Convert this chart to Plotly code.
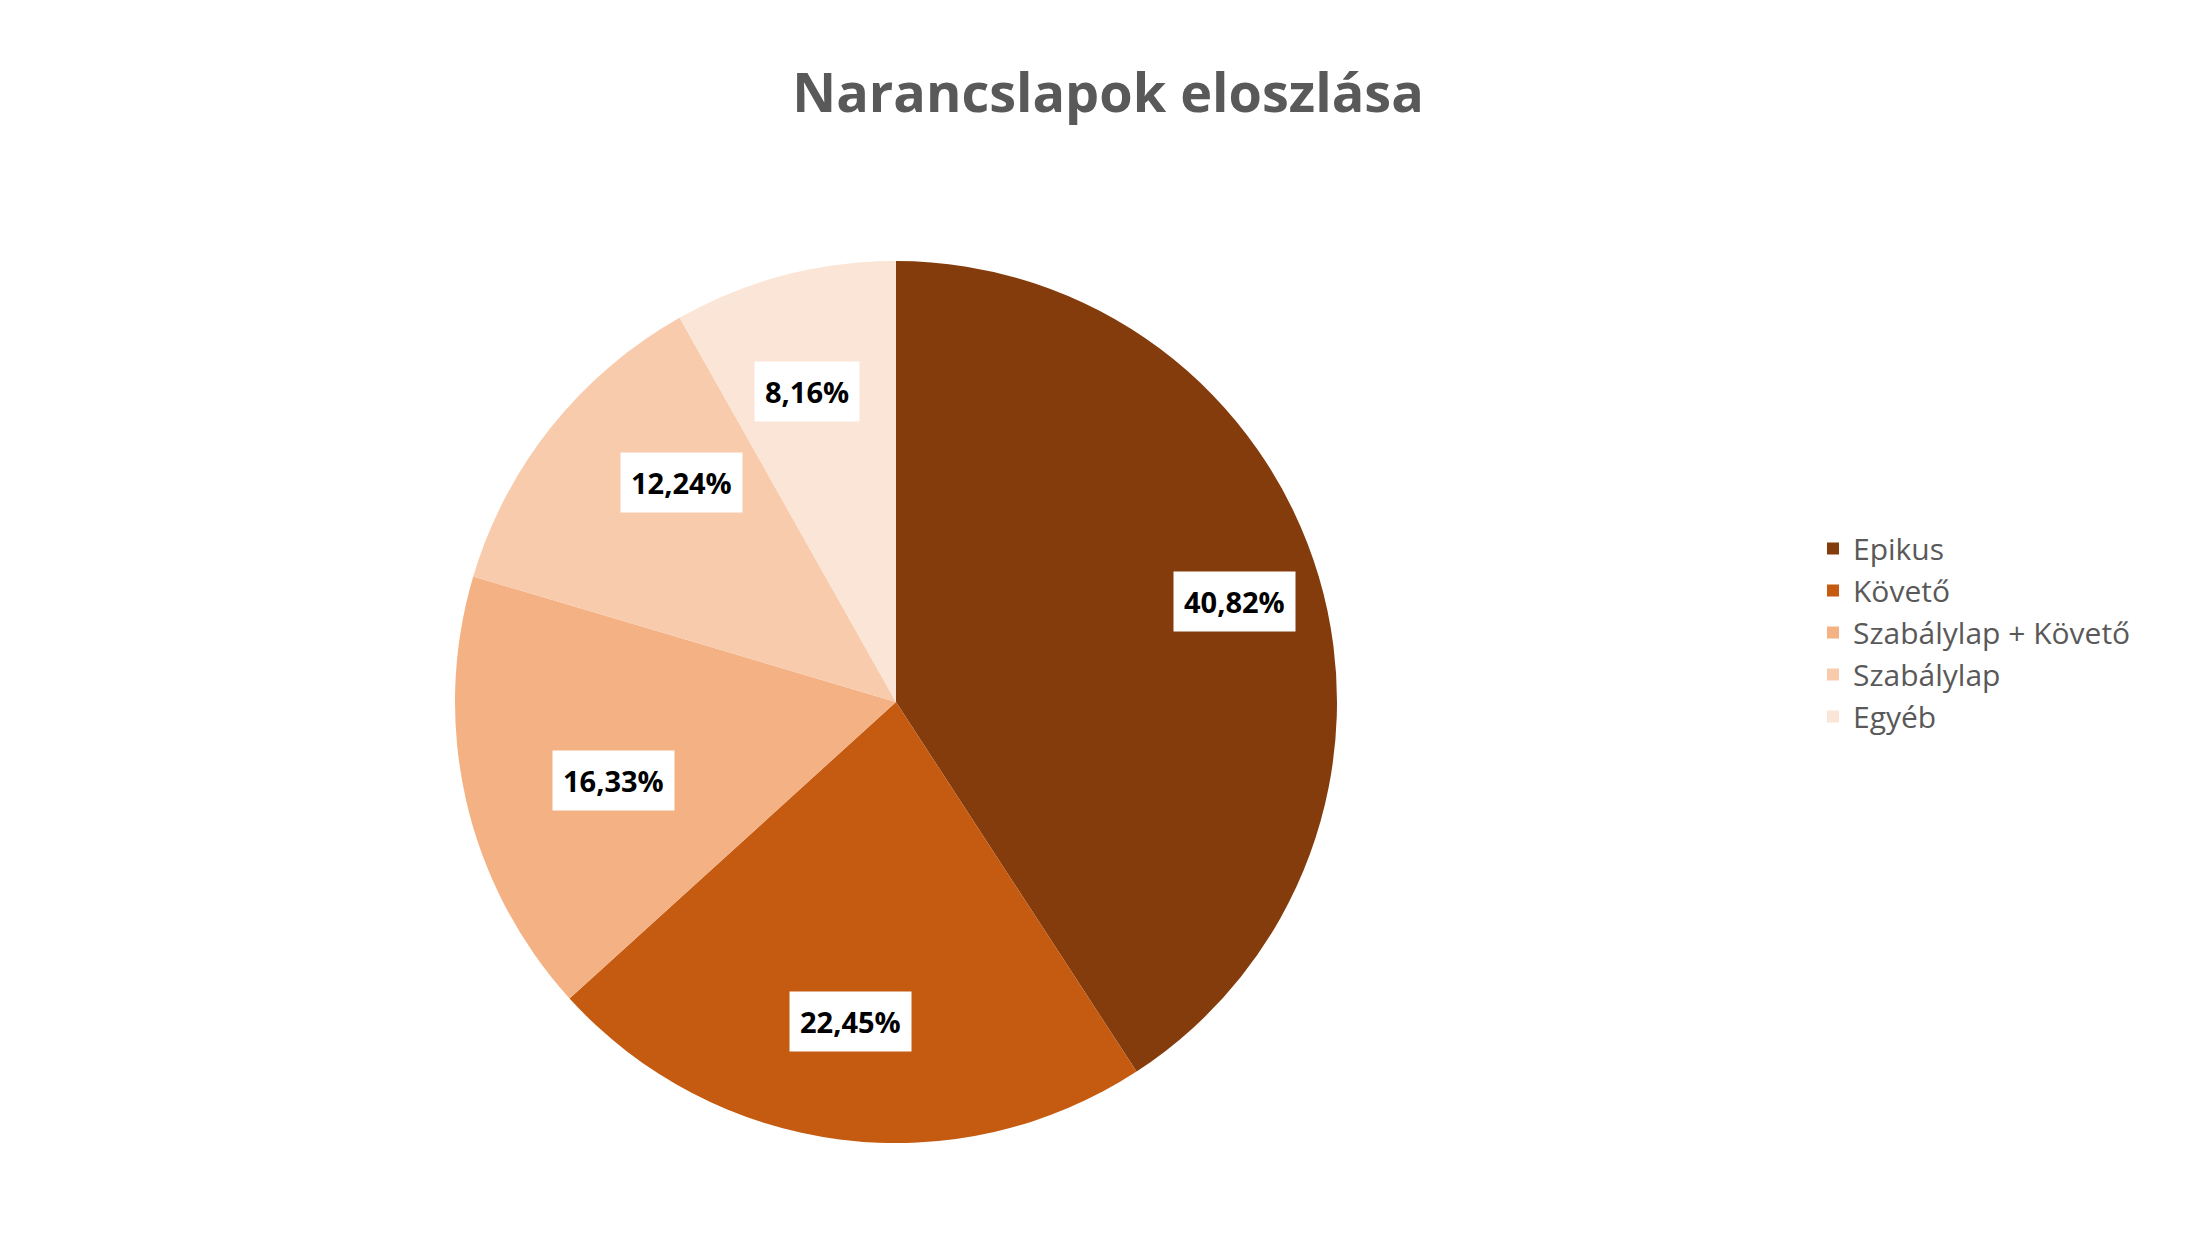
import math
import plotly.graph_objects as go

labels = ["Epikus", "Követő", "Szabálylap + Követő", "Szabálylap", "Egyéb"]
values = [20, 11, 8, 6, 4]
colors = ["#843C0C", "#C55A11", "#F4B183", "#F8CBAD", "#FBE5D6"]

W, H = 2200, 1249
cx, cy, R = 888, 694, 441  # pixel geometry of the pie
dom_x = [(cx - R) / W, (cx + R) / W]
dom_y = [1 - (cy + R) / H, 1 - (cy - R) / H]

fig = go.Figure(go.Pie(
    labels=labels, values=values, sort=False, direction="clockwise", rotation=0,
    marker=dict(colors=colors), textinfo="none", hoverinfo="label+percent",
    domain=dict(x=dom_x, y=dom_y),
))

total = sum(values)
cum = 0
annotations = []
for v in values:
    th = 2 * math.pi * (cum + v / 2) / total
    cum += v
    r = R * 0.8
    px = cx + r * math.sin(th)
    py = cy - r * math.cos(th)
    pct = f"{100 * v / total:.2f}".replace(".", ",") + "%"
    annotations.append(dict(
        x=px / W, y=1 - py / H, xref="paper", yref="paper", showarrow=False,
        text=f"<b>{pct}</b>", font=dict(family="Open Sans", size=29, color="black"),
        bgcolor="white", borderpad=10,
    ))

fig.update_layout(
    width=W, height=H, paper_bgcolor="white",
    margin=dict(l=0, r=0, t=0, b=0),
    title=dict(text="<b>Narancslapok eloszlása</b>", x=0.5, xanchor="center",
               y=1 - 85 / H, yanchor="middle",
               font=dict(family="Open Sans", size=54, color="#595959")),
    legend=dict(x=1805 / W, y=0.5, xanchor="left", yanchor="middle",
                font=dict(family="Open Sans", size=30, color="#595959"),
                itemwidth=30, tracegroupgap=20),
    annotations=annotations,
)
fig.write_html("out.html")
